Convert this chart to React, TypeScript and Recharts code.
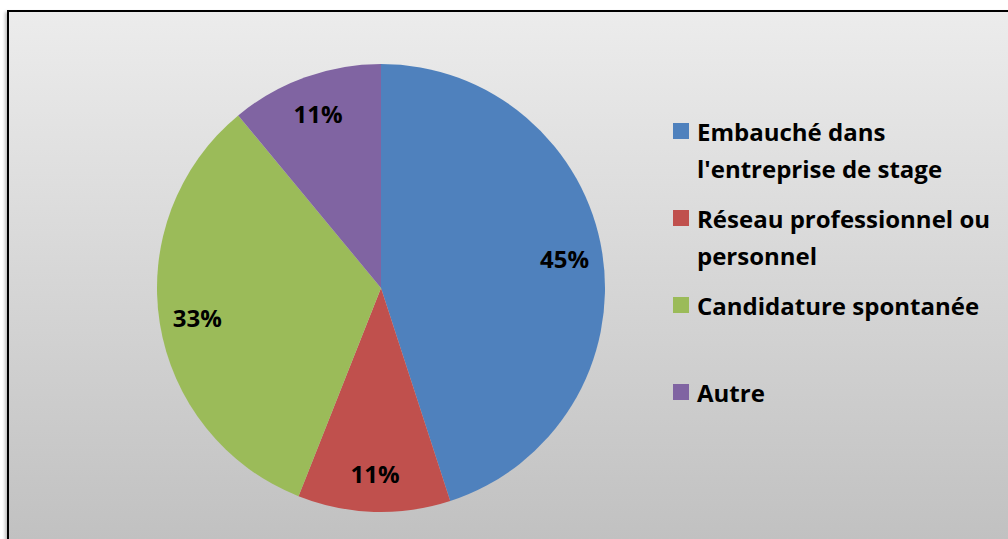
import React from 'react';
import { PieChart, Pie, Cell, Legend } from 'recharts';

const categories = [
  "Embauché dans l'entreprise de stage",
  'Réseau professionnel ou personnel',
  'Candidature spontanée',
  'Autre',
];
const shares = [45, 11, 33, 11];
const colors = ['#4f81bd', '#c0504d', '#9bbb59', '#8064a2'];

const chartData = categories.map((name, i) => ({ name, value: shares[i] }));

const RADIAN = Math.PI / 180;
const fontFamily = '"Open Sans", Lato, sans-serif';

const renderLabel = ({ cx, cy, midAngle, outerRadius, value }: any) => {
  const r = outerRadius * 0.83;
  const x = cx + r * Math.cos(-midAngle * RADIAN);
  const y = cy + r * Math.sin(-midAngle * RADIAN);
  return (
    <text
      x={x}
      y={y}
      textAnchor="middle"
      dominantBaseline="central"
      fill="#000"
      fontSize={24}
      fontWeight={700}
      fontFamily={fontFamily}
    >
      {`${value}%`}
    </text>
  );
};

// legend built from the arrays so the order stays as in the source
const CustomLegend = () => (
  <div style={{ fontFamily, fontWeight: 700, fontSize: 24, color: '#000' }}>
    {categories.map((name, i) => (
      <div key={name} style={{ display: 'flex', height: 87, alignItems: 'flex-start' }}>
        <div
          style={{
            width: 16,
            height: 16,
            marginTop: 10,
            marginRight: 8,
            flex: 'none',
            backgroundColor: colors[i],
          }}
        />
        <div style={{ width: 310, lineHeight: '37px' }}>{name}</div>
      </div>
    ))}
  </div>
);

export default function App() {
  return (
    <div
      style={{
        position: 'absolute',
        left: 0,
        top: 0,
        width: 1008,
        height: 539,
        overflow: 'hidden',
        background: '#ffffff',
      }}
    >
      <div
        style={{
          position: 'absolute',
          left: 7,
          top: 10,
          width: 1020,
          height: 540,
          border: '2px solid #000',
          boxShadow: '-2px 2px 3px rgba(0,0,0,0.25)',
          background: 'linear-gradient(to bottom, #ececec 0%, #c0c0c0 100%)',
        }}
      />
      <div style={{ position: 'absolute', left: 0, top: 0 }}>
        <PieChart width={1008} height={539} margin={{ top: 0, right: 0, bottom: 0, left: 0 }}>
          <Pie
            data={chartData}
            dataKey="value"
            nameKey="name"
            cx={381}
            cy={288}
            outerRadius={224}
            startAngle={90}
            endAngle={-270}
            stroke="none"
            label={renderLabel}
            labelLine={false}
            isAnimationActive={false}
          >
            {chartData.map((d, i) => (
              <Cell key={d.name} fill={colors[i]} />
            ))}
          </Pie>
          <Legend
            layout="vertical"
            align="right"
            verticalAlign="top"
            content={<CustomLegend />}
            wrapperStyle={{ left: 673, top: 113, width: 335 }}
          />
        </PieChart>
      </div>
    </div>
  );
}
